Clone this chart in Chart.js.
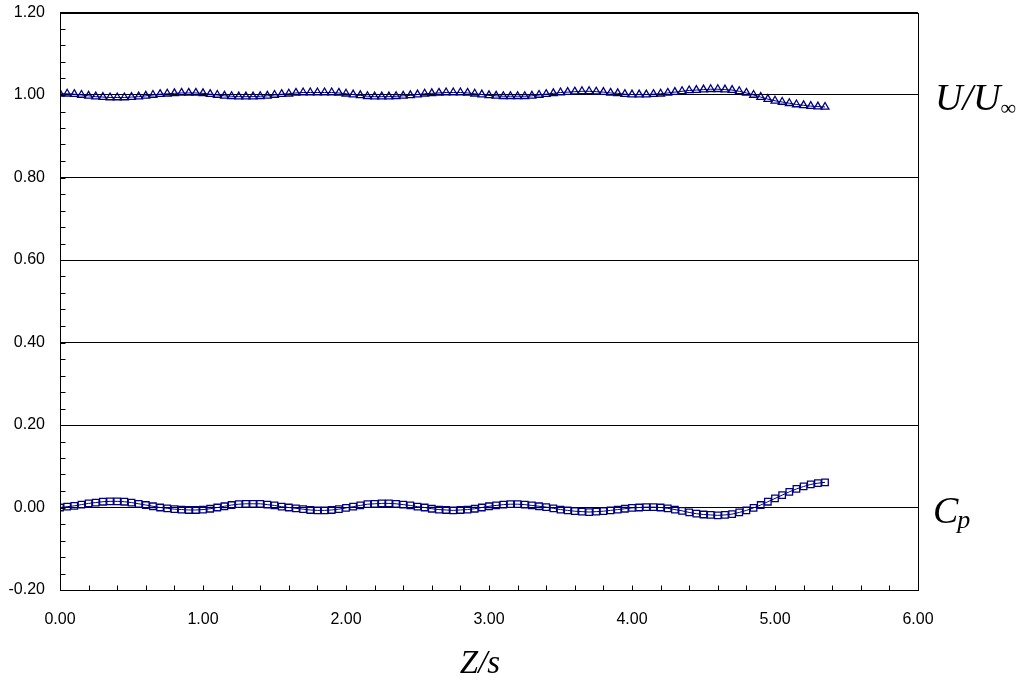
<!DOCTYPE html>
<html><head><meta charset="utf-8">
<script src="https://cdn.jsdelivr.net/npm/chart.js@4"></script>
<style>html,body{margin:0;padding:0;background:#fff}#wrap{width:1019px;height:684px}</style>
</head><body><div id="wrap"><canvas id="c" width="1019" height="684"></canvas></div>
<script>
// Z/s positions
const zs = [0.00,0.05,0.10,0.15,0.20,0.25,0.30,0.35,0.40,0.45,0.50,0.55,0.60,0.65,0.70,0.75,0.80,0.85,0.90,0.95,
1.00,1.05,1.10,1.15,1.20,1.25,1.30,1.35,1.40,1.45,1.50,1.55,1.60,1.65,1.70,1.75,1.80,1.85,1.90,1.95,
2.00,2.05,2.10,2.15,2.20,2.25,2.30,2.35,2.40,2.45,2.50,2.55,2.60,2.65,2.70,2.75,2.80,2.85,2.90,2.95,
3.00,3.05,3.10,3.15,3.20,3.25,3.30,3.35,3.40,3.45,3.50,3.55,3.60,3.65,3.70,3.75,3.80,3.85,3.90,3.95,
4.00,4.05,4.10,4.15,4.20,4.25,4.30,4.35,4.40,4.45,4.50,4.55,4.60,4.65,4.70,4.75,4.80,4.85,4.90,4.95,
5.00,5.05,5.10,5.15,5.20,5.25,5.30,5.35];
// U/U_inf (triangles)
const uRatio = [1.003,1.003,1.002,1.000,0.998,0.996,0.995,0.994,0.994,0.994,0.995,0.996,0.998,1.000,1.002,1.003,1.004,1.005,1.005,1.005,
1.004,1.002,1.000,0.998,0.997,0.996,0.996,0.996,0.997,0.998,1.000,1.002,1.003,1.005,1.006,1.006,1.006,1.006,1.006,1.005,
1.003,1.001,0.999,0.997,0.996,0.996,0.996,0.997,0.998,0.999,1.001,1.003,1.004,1.005,1.006,1.006,1.006,1.005,1.003,1.001,
0.999,0.998,0.997,0.997,0.997,0.997,0.998,1.000,1.002,1.004,1.006,1.007,1.008,1.009,1.009,1.008,1.007,1.005,1.004,1.002,
1.001,1.001,1.001,1.002,1.003,1.005,1.007,1.009,1.011,1.012,1.013,1.014,1.014,1.013,1.012,1.009,1.005,1.000,0.995,0.990,
0.986,0.983,0.980,0.977,0.975,0.973,0.972,0.971];
// Cp (squares)
const cp = [0.000,0.002,0.004,0.007,0.010,0.012,0.014,0.015,0.015,0.014,0.012,0.009,0.006,0.003,0.000,-0.002,-0.004,-0.005,-0.006,-0.006,
-0.005,-0.003,0.000,0.003,0.006,0.008,0.009,0.009,0.009,0.007,0.005,0.002,0.000,-0.002,-0.004,-0.006,-0.007,-0.007,-0.006,-0.004,
-0.001,0.002,0.005,0.008,0.009,0.010,0.010,0.009,0.007,0.005,0.002,0.000,-0.003,-0.005,-0.006,-0.007,-0.006,-0.005,-0.003,0.000,
0.003,0.005,0.007,0.008,0.008,0.007,0.005,0.003,0.001,-0.002,-0.005,-0.007,-0.009,-0.010,-0.011,-0.010,-0.009,-0.007,-0.005,-0.003,
-0.001,0.000,0.001,0.001,0.000,-0.002,-0.005,-0.008,-0.012,-0.015,-0.017,-0.018,-0.019,-0.018,-0.016,-0.012,-0.007,-0.001,0.006,0.014,
0.022,0.030,0.038,0.045,0.051,0.056,0.059,0.061];
const xTickLabels = ['0.00','1.00','2.00','3.00','4.00','5.00','6.00'];

const NAVY = '#000080';
const frame = {
  id: 'frame',
  afterDraw(chart) {
    const {ctx, chartArea: a, scales: {x, y}} = chart;
    ctx.save();
    ctx.strokeStyle = '#000';
    ctx.lineWidth = 1;
    const L = Math.round(a.left) + 0.5, R = Math.round(a.right) + 0.5;
    const T = Math.round(a.top) + 0.5, B = Math.round(a.bottom) + 0.5;
    ctx.strokeRect(L, T, R - L, B - T);
    ctx.beginPath();
    for (let k = 0; k <= 35; k++) {
      const py = Math.round(y.getPixelForValue(-0.2 + 0.04 * k)) + 0.5;
      ctx.moveTo(L, py); ctx.lineTo(L + 5, py);
    }
    for (let k = 0; k <= 30; k++) {
      const px = Math.round(x.getPixelForValue(0.2 * k)) + 0.5;
      ctx.moveTo(px, B); ctx.lineTo(px, B - 5);
    }
    ctx.stroke();
    ctx.fillStyle = '#000';
    ctx.textBaseline = 'alphabetic';
    ctx.textAlign = 'left';
    // U/U_inf
    let yU = y.getPixelForValue(1.0);
    ctx.font = 'italic 38px "Liberation Serif"';
    const xU = a.right + 17;
    ctx.fillText('U/U', xU, yU + 15);
    const wU = ctx.measureText('U/U').width;
    ctx.font = '22px "Liberation Serif"';
    ctx.fillText('\u221E', xU + wU, yU + 20);
    // Cp
    let yC = y.getPixelForValue(0.0);
    ctx.font = 'italic 38px "Liberation Serif"';
    const xC = a.right + 15;
    ctx.fillText('C', xC, yC + 15);
    const wC = ctx.measureText('C').width;
    ctx.font = 'italic 26px "Liberation Serif"';
    ctx.fillText('p', xC + wC - 1, yC + 20);
    // Z/s
    ctx.font = 'italic 33px "Liberation Serif"';
    ctx.textAlign = 'center';
    ctx.fillText('Z/s', (a.left + a.right) / 2 - 9, a.bottom + 83);
    ctx.restore();
  }
};

new Chart(document.getElementById('c'), {
  type: 'scatter',
  data: {
    datasets: [
      {
        label: 'U/U∞',
        data: zs.map((z, i) => ({x: z, y: uRatio[i]})),
        showLine: true,
        borderColor: NAVY,
        borderWidth: 1,
        pointStyle: 'triangle',
        pointRadius: 4.5,
        pointBorderColor: NAVY,
        pointBackgroundColor: 'rgba(0,0,0,0)',
        pointBorderWidth: 1.3
      },
      {
        label: 'Cp',
        data: zs.map((z, i) => ({x: z, y: cp[i]})),
        showLine: true,
        borderColor: NAVY,
        borderWidth: 1,
        pointStyle: 'rect',
        pointRadius: 4.6,
        pointBorderColor: NAVY,
        pointBackgroundColor: 'rgba(0,0,0,0)',
        pointBorderWidth: 1.3
      }
    ]
  },
  options: {
    responsive: false,
    animation: false,
    devicePixelRatio: 1,
    layout: {padding: {left: 0, right: 101, top: 12.5, bottom: 0}},
    plugins: {legend: {display: false}, tooltip: {enabled: false}},
    scales: {
      x: {
        type: 'linear', min: 0, max: 6,
        grid: {display: false, drawTicks: false},
        border: {display: false},
        ticks: {
          stepSize: 1, padding: 20, color: '#000',
          font: {family: '"Liberation Sans", Arial', size: 16},
          callback: (v) => xTickLabels[Math.round(v)]
        },
        afterFit: (s) => { s.height = 94; s.paddingLeft = 0; s.paddingRight = 0; }
      },
      y: {
        min: -0.2, max: 1.2,
        grid: {color: '#000', lineWidth: 1, drawTicks: false},
        border: {display: false},
        ticks: {
          stepSize: 0.2, padding: 15, color: '#000',
          font: {family: '"Liberation Sans", Arial', size: 16},
          callback: (v) => (Math.abs(v) < 1e-9 ? 0 : v).toFixed(2)
        },
        afterFit: (s) => { s.width = 60; s.paddingTop = 0; s.paddingBottom = 0; }
      }
    }
  },
  plugins: [frame]
});
</script></body></html>
